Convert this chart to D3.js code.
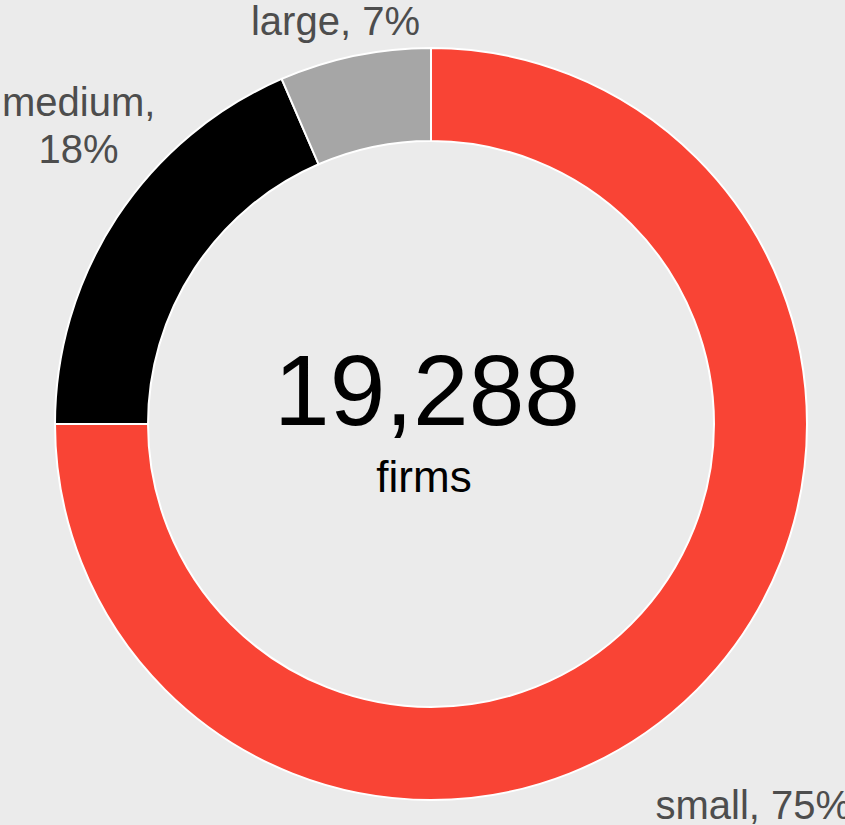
<!DOCTYPE html>
<html>
<head>
<meta charset="utf-8">
<script src="https://cdn.jsdelivr.net/npm/d3@7"></script>
<style>
  body { margin: 0; background: #ebebeb; }
  svg { display: block; font-family: "Liberation Sans", Arial, sans-serif; }
</style>
</head>
<body>
<div id="chart"></div>
<script>
var w = 845;
var h = 825;

// data
var categories = ["small", "medium", "large"];
var shares = [75, 18.5, 6.5];
var pctLabels = ["75%", "18%", "7%"];
var colors = ["#f94435", "#000000", "#a6a6a6"];
var total = "19,288";
var totalLabel = "firms";

// label nudges from the arc centroid (x, y)
var nudges = [[31, 90], [-8, -74], [-12, 0]];

var cx = 431, cy = 424;
var outerR = 376, innerR = 283, labelR = 412;

var svg = d3.select("#chart").append("svg").attr("width", w).attr("height", h);
svg.append("rect").attr("width", w).attr("height", h).attr("fill", "#ebebeb");

var g = svg.append("g").attr("transform", "translate(" + cx + "," + cy + ")");

var pie = d3.pie().sort(null).value(function (d) { return d; });
var arcs = pie(shares);

var arc = d3.arc().innerRadius(innerR).outerRadius(outerR);
var labelArc = d3.arc().innerRadius(labelR).outerRadius(labelR);

g.selectAll("path.slice")
    .data(arcs)
    .enter().append("path")
    .attr("class", "slice")
    .attr("d", arc)
    .attr("fill", function (d, i) { return colors[i]; })
    .attr("stroke", "white")
    .attr("stroke-width", 2);

// outer labels
var labels = g.selectAll("text.lab")
    .data(arcs)
    .enter().append("text")
    .attr("class", "lab")
    .attr("text-anchor", "middle")
    .attr("fill", "#4d4d4d")
    .style("font-size", "40px")
    .attr("transform", function (d, i) {
        var c = labelArc.centroid(d);
        return "translate(" + (c[0] + nudges[i][0]) + "," + (c[1] + nudges[i][1]) + ")";
    });

labels.each(function (d, i) {
    var t = d3.select(this);
    if (categories[i] === "medium") {
        t.append("tspan").attr("x", 0).attr("dy", "-0.2em").text(categories[i] + ",");
        t.append("tspan").attr("x", 0).attr("dy", "1.17em").text(pctLabels[i]);
    } else {
        t.append("tspan").attr("x", 0).attr("dy", "0.35em").text(categories[i] + ", " + pctLabels[i]);
    }
});

// centre text
g.append("text")
    .attr("text-anchor", "middle")
    .attr("x", -4)
    .attr("y", 1)
    .style("font-size", "100px")
    .attr("fill", "#000")
    .text(total);

g.append("text")
    .attr("text-anchor", "middle")
    .attr("x", -7)
    .attr("y", 68)
    .style("font-size", "44px")
    .attr("fill", "#000")
    .text(totalLabel);
</script>
</body>
</html>
